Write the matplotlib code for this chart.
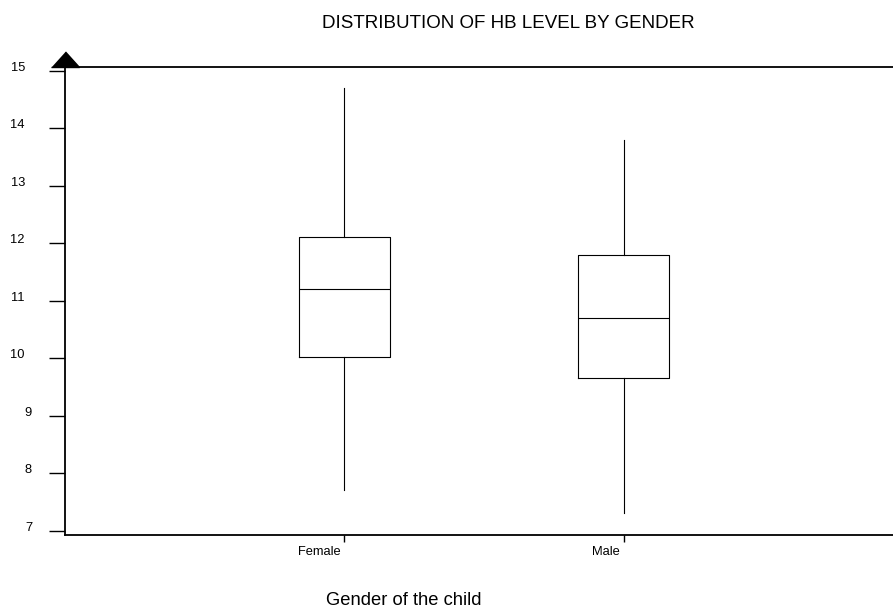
import matplotlib
matplotlib.use("Agg")
import matplotlib.pyplot as plt

plt.rcParams['font.family'] = ['Liberation Sans', 'DejaVu Sans']

# Hb level summary by gender
genders = ["Female", "Male"]
hb_median = [11.2, 10.7]
hb_q1 = [10.02, 9.66]
hb_q3 = [12.1, 11.8]
hb_low = [7.7, 7.3]
hb_high = [14.7, 13.8]
y_ticks = [7, 8, 9, 10, 11, 12, 13, 14, 15]

stats = []
for i, g in enumerate(genders):
    stats.append({"label": g, "med": hb_median[i], "q1": hb_q1[i], "q3": hb_q3[i],
                  "whislo": hb_low[i], "whishi": hb_high[i], "fliers": []})

fig = plt.figure(figsize=(8.93, 6.10), dpi=100)
ax = fig.add_axes([0.0725, 0.123, 0.9389, 0.7672])

line = dict(color="black", linewidth=0.8)
ax.bxp(stats, positions=[1, 2], widths=0.325, showcaps=False, showfliers=False,
       boxprops=line, whiskerprops=line, medianprops=line)

ax.set_xlim(0, 3)
ax.set_ylim(6.925, 15.064)

for side in ["left", "top", "bottom"]:
    ax.spines[side].set_linewidth(1.3)
ax.spines["right"].set_visible(False)

ax.set_yticks(y_ticks)
ax.set_yticklabels([str(t) + ("\u2007" if t >= 10 else "") for t in y_ticks])
ax.tick_params(axis="y", direction="out", length=11.3, width=1.0, pad=12.2, labelsize=9.3)
for lab in ax.get_yticklabels():
    lab.set_verticalalignment("baseline")

ax.set_xticks([1, 2])
ax.set_xticklabels([g + " " for g in genders])
ax.tick_params(axis="x", direction="out", length=5, width=1.0, pad=2.8, labelsize=9.3)
for lab in ax.get_xticklabels():
    lab.set_horizontalalignment("right")

# arrow head on top of the y axis
ax.plot([0], [1], transform=ax.transAxes, marker=[(-1, 0), (1, 0), (0, 1.11)],
        markersize=22.4, color="black", clip_on=False)

fig.text(0.569, 0.954, "DISTRIBUTION OF HB LEVEL BY GENDER", ha="center", va="baseline", fontsize=13.5)
fig.text(0.452, 0.008, "Gender of the child", ha="center", va="baseline", fontsize=13.2)

fig.savefig("out.png", dpi=100)
